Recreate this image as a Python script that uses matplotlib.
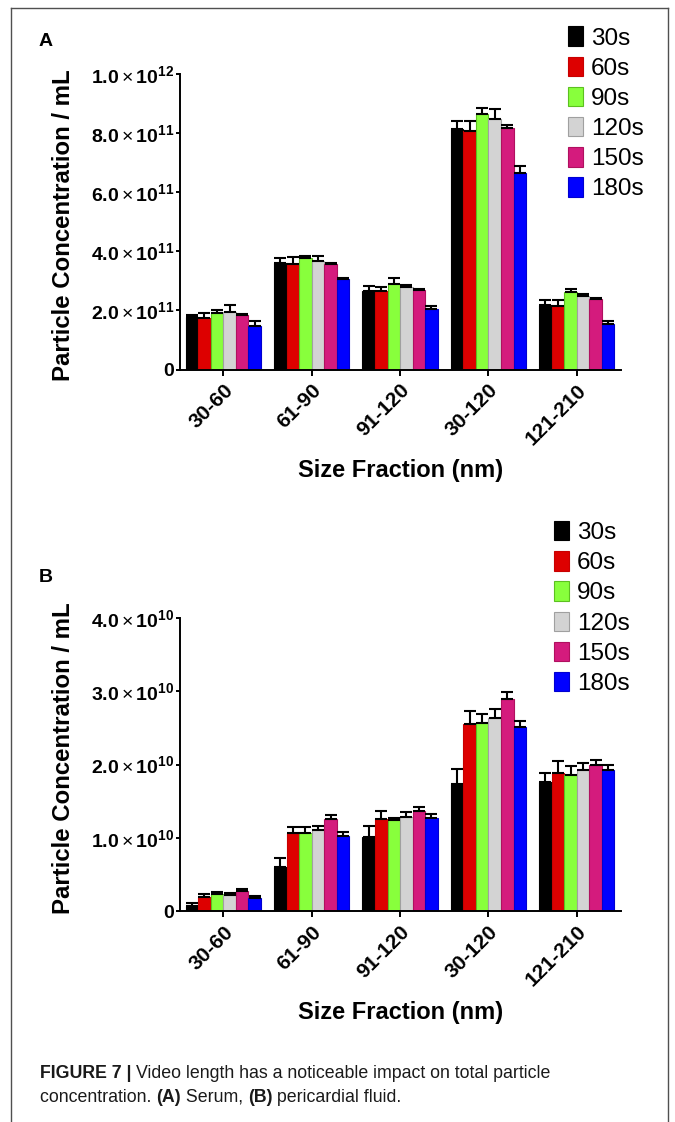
import numpy as np
import matplotlib
matplotlib.use("Agg")
import matplotlib.pyplot as plt
import matplotlib.transforms as mtransforms
from matplotlib.lines import Line2D

plt.rcParams['font.family'] = ['Liberation Sans', 'DejaVu Sans']
plt.rcParams['mathtext.fontset'] = 'custom'
plt.rcParams['mathtext.rm'] = 'Liberation Sans'
plt.rcParams['mathtext.bf'] = 'Liberation Sans:bold'
plt.rcParams['mathtext.it'] = 'Liberation Sans:italic'

# size fractions and video lengths
fractions = ["30-60", "61-90", "91-120", "30-120", "121-210"]
durations = ["30s", "60s", "90s", "120s", "150s", "180s"]
bar_colors = ["#000000", "#dd0000", "#88ff3c", "#d3d3d3", "#d41b7d", "#0000ff"]
edge_colors = ["#000000", "#c80000", "#5cc020", "#a0a0a0", "#b0105f", "#0000d0"]

# (A) serum, in units of 1e11 particles/mL, rows = video length
serum_unit = 1e11
serum_mean = [
    [1.78, 3.62, 2.66, 8.14, 2.19],
    [1.75, 3.57, 2.66, 8.07, 2.15],
    [1.91, 3.77, 2.90, 8.64, 2.61],
    [1.94, 3.68, 2.79, 8.47, 2.48],
    [1.84, 3.57, 2.68, 8.16, 2.37],
    [1.48, 3.05, 2.05, 6.66, 1.55],
]
serum_err = [
    [0.05, 0.17, 0.15, 0.26, 0.16],
    [0.16, 0.24, 0.14, 0.35, 0.19],
    [0.10, 0.07, 0.19, 0.20, 0.11],
    [0.23, 0.16, 0.08, 0.35, 0.08],
    [0.03, 0.05, 0.05, 0.11, 0.05],
    [0.16, 0.06, 0.11, 0.24, 0.08],
]
serum_ticks = [0, 2e11, 4e11, 6e11, 8e11, 1e12]
serum_tick_labels = ["0",
                     r"$\mathbf{2.0}\times\mathbf{10^{11}}$",
                     r"$\mathbf{4.0}\times\mathbf{10^{11}}$",
                     r"$\mathbf{6.0}\times\mathbf{10^{11}}$",
                     r"$\mathbf{8.0}\times\mathbf{10^{11}}$",
                     r"$\mathbf{1.0}\times\mathbf{10^{12}}$"]

# (B) pericardial fluid, in units of 1e9 particles/mL
peri_unit = 1e9
peri_mean = [
    [0.73, 6.07, 10.1, 17.3, 17.6],
    [1.92, 10.7, 12.5, 25.5, 18.8],
    [2.28, 10.6, 12.4, 25.6, 18.5],
    [2.15, 11.1, 12.8, 26.3, 19.2],
    [2.74, 12.5, 13.6, 29.0, 19.9],
    [1.83, 10.3, 12.7, 25.1, 19.3],
]
peri_err = [
    [0.37, 1.14, 1.46, 2.15, 1.28],
    [0.37, 0.73, 1.10, 1.78, 1.69],
    [0.37, 0.91, 0.23, 1.28, 1.32],
    [0.37, 0.50, 0.68, 1.33, 1.00],
    [0.27, 0.55, 0.59, 0.91, 0.68],
    [0.18, 0.46, 0.55, 0.87, 0.68],
]
peri_ticks = [0, 1e10, 2e10, 3e10, 4e10]
peri_tick_labels = ["0",
                    r"$\mathbf{1.0}\times\mathbf{10^{10}}$",
                    r"$\mathbf{2.0}\times\mathbf{10^{10}}$",
                    r"$\mathbf{3.0}\times\mathbf{10^{10}}$",
                    r"$\mathbf{4.0}\times\mathbf{10^{10}}$"]

W, H = 675, 1122
fig = plt.figure(figsize=(W / 100, H / 100), dpi=100)


def px_axes(left, top, right, bottom):
    return fig.add_axes([left / W, 1 - bottom / H, (right - left) / W, (bottom - top) / H])


def draw_panel(ax, mean, err, unit, ticks, tick_labels, letter, letter_y, legend_xy, ylab_y):
    x = np.arange(len(fractions))
    width = 0.142
    for i, lab in enumerate(durations):
        vals = np.array(mean[i]) * unit
        e = np.array(err[i]) * unit
        ax.bar(x + (i - 2.5) * width, vals, width, color=bar_colors[i],
               edgecolor=edge_colors[i], linewidth=0.8, label=lab,
               yerr=[np.zeros_like(e), e],
               error_kw=dict(ecolor="black", elinewidth=1.5, capsize=4.5, capthick=1.5),
               zorder=2)
    ax.set_xlim(-0.49, 4.5)
    ax.set_ylim(0, ticks[-1])
    ax.set_yticks(ticks)
    ax.set_yticklabels(tick_labels)
    ax.set_xticks(x)
    ax.set_xticklabels(fractions, rotation=45, ha="right", rotation_mode="anchor",
                       fontsize=15, fontweight="bold")
    offset = mtransforms.ScaledTranslation(6 / 100, 0, fig.dpi_scale_trans)
    for t in ax.get_xticklabels():
        t.set_transform(t.get_transform() + offset)
    for s in ["top", "right"]:
        ax.spines[s].set_visible(False)
    for s in ["left", "bottom"]:
        ax.spines[s].set_linewidth(1.4)
    ax.tick_params(axis="y", direction="out", length=3, width=1.4, pad=1, labelsize=14)
    ax.tick_params(axis="x", direction="out", length=4, width=1.4, pad=4)
    for t in ax.get_yticklabels():
        t.set_fontweight("bold")

    ax.set_ylabel("Particle Concentration / mL", fontsize=17.3, fontweight="bold")
    ax.yaxis.set_label_coords(-0.265, ylab_y)
    ax.yaxis.label.set_va("center")
    ax.set_xlabel("Size Fraction (nm)", fontsize=17, fontweight="bold")

    fig.text(39 / W, 1 - letter_y / H, letter, fontsize=14, fontweight="bold", va="center")

    ax.legend(loc="upper left", bbox_to_anchor=(legend_xy[0] / W, 1 - legend_xy[1] / H),
              bbox_transform=fig.transFigure, frameon=False, fontsize=17.5,
              handlelength=15 / 24.3, handleheight=20.7 / 24.3, handletextpad=8 / 24.3,
              labelspacing=0.29, borderpad=0, borderaxespad=0)


ax_a = px_axes(180, 74, 621, 369.5)
draw_panel(ax_a, serum_mean, serum_err, serum_unit, serum_ticks, serum_tick_labels,
           "A", 42, (567.7, 26.5), 0.49)
ax_a.xaxis.set_label_coords(0.5, -(470 - 369.5) / 295.5)
ax_a.xaxis.label.set_va("center")

ax_b = px_axes(180, 618, 621, 911)
draw_panel(ax_b, peri_mean, peri_err, peri_unit, peri_ticks, peri_tick_labels,
           "B", 577, (554, 521), 0.52)
ax_b.xaxis.set_label_coords(0.5, -(1012 - 911) / 293)
ax_b.xaxis.label.set_va("center")

# frame around the figure
frame_kw = dict(color="#505050", linewidth=1.0, transform=fig.transFigure)
fig.add_artist(Line2D([11 / W, 11 / W], [0, 1 - 8 / H], **frame_kw))
fig.add_artist(Line2D([11 / W, 668 / W], [1 - 8 / H, 1 - 8 / H], **frame_kw))
fig.add_artist(Line2D([668 / W, 668 / W], [0, 1 - 8 / H], **frame_kw))

# caption, bold and regular pieces chained one after another
cap_fam = ["Liberation Sans Narrow", "Liberation Sans"]
cap_fs = 12.8
line1 = [("FIGURE 7 | ", "bold"), ("Video length has a noticeable impact on total particle", "normal")]
line2 = [("concentration. ", "normal"), ("(A)", "bold"), (" Serum, ", "normal"),
         ("(B)", "bold"), (" pericardial fluid.", "normal")]
for line, y in [(line1, 1073), (line2, 1097)]:
    prev = None
    for txt, wt in line:
        if prev is None:
            prev = fig.text(40 / W, 1 - y / H, txt, fontsize=cap_fs, fontweight=wt,
                            family=cap_fam, va="center", color="#1a1a1a")
        else:
            prev = ax_b.annotate(txt, xy=(1, 0), xycoords=prev, va="bottom", ha="left",
                                 fontsize=cap_fs, fontweight=wt, family=cap_fam,
                                 color="#1a1a1a", annotation_clip=False)

fig.savefig("out.png", dpi=100)
